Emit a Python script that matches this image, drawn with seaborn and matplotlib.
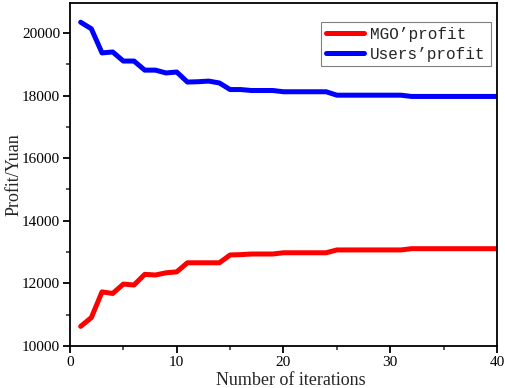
import matplotlib
matplotlib.use("Agg")
import matplotlib.pyplot as plt
import seaborn as sns
import pandas as pd
from matplotlib.ticker import MultipleLocator

iterations = list(range(1, 41))
mgo_profit = [10630, 10910, 11730, 11680, 11980, 11950, 12290, 12270, 12340, 12370,
              12660, 12660, 12660, 12660, 12910, 12920, 12940, 12940, 12940, 12980,
              12980, 12980, 12980, 12980, 13070, 13070, 13070, 13070, 13070, 13070,
              13070, 13110, 13110, 13110, 13110, 13110, 13110, 13110, 13110, 13110]
users_profit = [20340, 20130, 19360, 19390, 19100, 19100, 18810, 18810, 18720, 18750,
                18430, 18440, 18460, 18400, 18190, 18190, 18160, 18160, 18160, 18120,
                18120, 18120, 18120, 18120, 18010, 18010, 18010, 18010, 18010, 18010,
                18010, 17970, 17970, 17970, 17970, 17970, 17970, 17970, 17970, 17970]
series_names = ["MGO\u2019profit", "Users\u2019profit"]
series_colors = ["#ff0000", "#0000ff"]

df = pd.DataFrame({
    "iter": iterations * 2,
    "profit": mgo_profit + users_profit,
    "series": [series_names[0]] * len(iterations) + [series_names[1]] * len(iterations),
})

sns.set_theme(style="ticks")
plt.rcParams["font.family"] = ["Liberation Serif", "DejaVu Serif"]

fig = plt.figure(figsize=(5.05, 3.88), dpi=100)
ax = fig.add_axes([0.1386, 0.108, 0.8455, 0.884])

sns.lineplot(data=df, x="iter", y="profit", hue="series", palette=series_colors,
             hue_order=series_names, linewidth=3.6, ax=ax, legend=True)
for ln in ax.get_lines():
    ln.set_solid_joinstyle("round")
    ln.set_solid_capstyle("round")

ax.set_xlim(0, 40)
ax.set_ylim(10000, 20950)
ax.xaxis.set_major_locator(MultipleLocator(10))
ax.xaxis.set_minor_locator(MultipleLocator(5))
ax.yaxis.set_major_locator(MultipleLocator(2000))
ax.yaxis.set_minor_locator(MultipleLocator(1000))
ax.tick_params(which="major", direction="out", length=5, width=1.3, labelsize=11,
               colors="black", pad=2)
ax.tick_params(which="minor", direction="out", length=3, width=1.1)
for s in ax.spines.values():
    s.set_linewidth(1.3)
    s.set_color("black")

ax.set_xlabel("Number of iterations", fontsize=13, labelpad=-1)
ax.xaxis.set_label_coords(0.518, -0.075)
ax.set_ylabel("Profit/Yuan", fontsize=13, labelpad=0)

leg = ax.legend(loc="upper right", bbox_to_anchor=(0.985, 0.945), fancybox=False,
                edgecolor="#808080", framealpha=1,
                prop={"family": ["Liberation Mono", "DejaVu Sans Mono"], "size": 11.5},
                handlelength=2.4, handletextpad=0.4, borderpad=0.3, labelspacing=0.3,
                borderaxespad=0)
leg.get_frame().set_linewidth(0.8)
for h in leg.get_lines():
    h.set_linewidth(3.6)

fig.savefig("out.png", dpi=100)
